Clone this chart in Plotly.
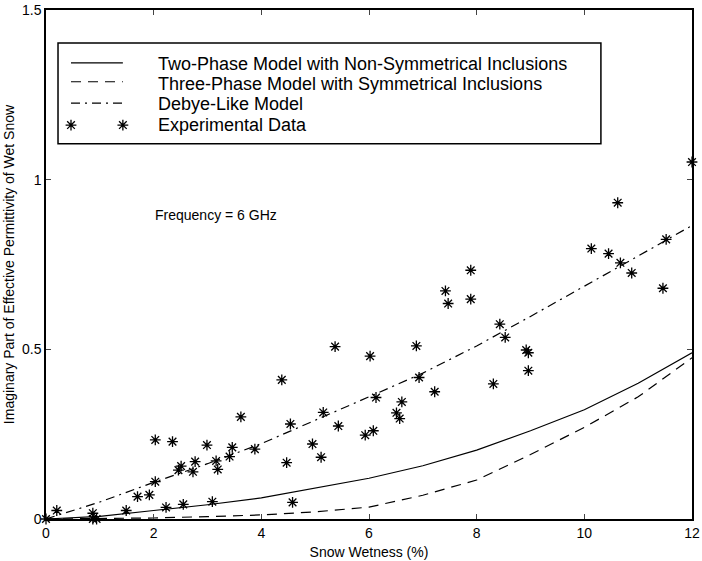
import plotly.graph_objects as go

# Model curves
x_model = [0, 1, 2, 3, 4, 5, 6, 7, 8, 9, 10, 11, 12]
two_phase = [0, 0.008, 0.025, 0.042, 0.062, 0.09, 0.12, 0.157, 0.203, 0.26, 0.322, 0.40, 0.49]
three_phase = [0, 0.001, 0.003, 0.007, 0.012, 0.021, 0.035, 0.07, 0.115, 0.19, 0.27, 0.36, 0.475]
debye = [0, 0.05, 0.108, 0.163, 0.222, 0.29, 0.36, 0.43, 0.51, 0.597, 0.685, 0.775, 0.865]

# Experimental data
exp_x = [0.0, 0.2, 0.87, 0.87, 0.94, 1.49, 1.70, 1.92, 2.03, 2.03, 2.23, 2.35, 2.46, 2.51,
         2.55, 2.73, 2.77, 2.99, 3.09, 3.16, 3.19, 3.41, 3.46, 3.62, 3.88, 4.38, 4.47,
         4.54, 4.58, 4.95, 5.11, 5.15, 5.37, 5.43, 5.93, 6.02, 6.08, 6.13, 6.51, 6.57,
         6.61, 6.88, 6.93, 7.22, 7.42, 7.47, 7.89, 7.89, 8.31, 8.43, 8.53, 8.92, 8.96,
         8.96, 10.13, 10.45, 10.62, 10.67, 10.88, 11.46, 11.52, 12.0]
exp_y = [0.0, 0.025, 0.017, 0.0, 0.0, 0.025, 0.066, 0.071, 0.11, 0.233, 0.034, 0.228, 0.144, 0.156,
         0.043, 0.139, 0.169, 0.218, 0.051, 0.171, 0.146, 0.184, 0.211, 0.301, 0.206, 0.41, 0.166,
         0.28, 0.049, 0.221, 0.182, 0.314, 0.508, 0.274, 0.247, 0.48, 0.26, 0.358, 0.313, 0.296,
         0.345, 0.51, 0.417, 0.375, 0.672, 0.635, 0.733, 0.648, 0.398, 0.574, 0.535, 0.498, 0.49,
         0.437, 0.797, 0.782, 0.932, 0.755, 0.725, 0.68, 0.824, 1.052]

x_ticks = [0, 2, 4, 6, 8, 10, 12]
y_ticks = [0, 0.5, 1, 1.5]
y_tick_labels = ["0", "0.5", "1", "1.5"]

legend_labels = ["Two-Phase Model with Non-Symmetrical Inclusions",
                 "Three-Phase Model with Symmetrical Inclusions",
                 "Debye-Like Model",
                 "Experimental Data"]

FONT = "Liberation Sans, Arial, sans-serif"

fig = go.Figure()
fig.add_trace(go.Scatter(x=x_model, y=two_phase, mode="lines",
                         line=dict(color="black", width=1.2), showlegend=False))
fig.add_trace(go.Scatter(x=x_model, y=three_phase, mode="lines",
                         line=dict(color="black", width=1.2, dash="10px,7px"), showlegend=False))
fig.add_trace(go.Scatter(x=x_model, y=debye, mode="lines",
                         line=dict(color="black", width=1.2, dash="9px,5px,2px,5px"), showlegend=False))
fig.add_trace(go.Scatter(x=exp_x, y=exp_y, mode="markers",
                         marker=dict(symbol="asterisk-open", size=9, color="black",
                                     line=dict(color="black", width=1.3)),
                         showlegend=False, cliponaxis=False))

# Legend key stars drawn on an overlay axis in paper-like units
fig.add_trace(go.Scatter(x=[0.0387, 0.119], y=[0.774, 0.774], mode="markers",
                         xaxis="x2", yaxis="y2",
                         marker=dict(symbol="asterisk-open", size=9, color="black",
                                     line=dict(color="black", width=1.3)),
                         showlegend=False))

shapes = [
    dict(type="rect", xref="paper", yref="paper", x0=0.0186, x1=0.859, y0=0.737, y1=0.935,
         line=dict(color="black", width=1.5), fillcolor="white", layer="below"),
    dict(type="line", xref="paper", yref="paper", x0=0.0387, x1=0.119, y0=0.896, y1=0.896,
         line=dict(color="black", width=1.2)),
    dict(type="line", xref="paper", yref="paper", x0=0.0387, x1=0.119, y0=0.859, y1=0.859,
         line=dict(color="black", width=1.2, dash="10px,7px")),
    dict(type="line", xref="paper", yref="paper", x0=0.0387, x1=0.119, y0=0.817, y1=0.817,
         line=dict(color="black", width=1.2, dash="9px,5px,2px,5px")),
]

annotations = []
for lbl, yy in zip(legend_labels, [0.894, 0.855, 0.815, 0.774]):
    annotations.append(dict(text=lbl, xref="paper", yref="paper", x=0.170, y=yy,
                            xanchor="left", yanchor="middle", showarrow=False,
                            font=dict(family=FONT, size=18, color="black")))
annotations.append(dict(text="Frequency = 6 GHz", xref="paper", yref="paper", x=0.263, y=0.597,
                        xanchor="center", yanchor="middle", showarrow=False,
                        font=dict(family=FONT, size=14, color="black")))

fig.update_layout(
    width=702, height=561,
    margin=dict(l=46, r=10, t=10, b=42, autoexpand=False),
    paper_bgcolor="white", plot_bgcolor="white",
    font=dict(family=FONT, size=14, color="black"),
    shapes=shapes, annotations=annotations,
    xaxis=dict(range=[0, 12], tickvals=x_ticks, ticks="inside", ticklen=5,
               showline=True, linecolor="black", linewidth=1.5, mirror="ticks",
               showgrid=False, zeroline=False, tickfont=dict(size=14), automargin=False,
               title=dict(text="Snow Wetness (%)", font=dict(size=14), standoff=8)),
    yaxis=dict(range=[0, 1.5], tickvals=y_ticks, ticktext=y_tick_labels, ticks="inside", ticklen=5,
               showline=True, linecolor="black", linewidth=1.5, mirror="ticks",
               showgrid=False, zeroline=False, tickfont=dict(size=14), automargin=False,
               title=dict(text="Imaginary Part of Effective Permittivity of Wet Snow",
                          font=dict(size=14), standoff=4)),
    xaxis2=dict(range=[0, 1], overlaying="x", visible=False, anchor="y2"),
    yaxis2=dict(range=[0, 1], overlaying="y", visible=False, anchor="x2"),
)

fig.write_html("out.html")
